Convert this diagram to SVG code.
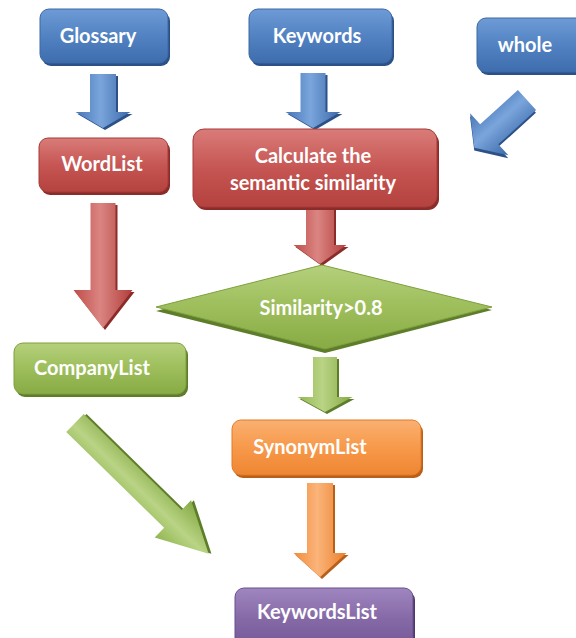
<svg xmlns="http://www.w3.org/2000/svg" width="576" height="638" viewBox="0 0 576 638">
<defs>
<linearGradient id="gBlue" x1="0" y1="0" x2="0" y2="1"><stop offset="0" stop-color="#6E9BD6"/><stop offset="0.5" stop-color="#5282C2"/><stop offset="1" stop-color="#3E6DAE"/></linearGradient>
<linearGradient id="gRed" x1="0" y1="0" x2="0" y2="1"><stop offset="0" stop-color="#D97C79"/><stop offset="0.5" stop-color="#C65653"/><stop offset="1" stop-color="#B4423F"/></linearGradient>
<linearGradient id="gGreen" x1="0" y1="0" x2="0" y2="1"><stop offset="0" stop-color="#B5D07C"/><stop offset="0.5" stop-color="#9DBE5B"/><stop offset="1" stop-color="#88AB45"/></linearGradient>
<linearGradient id="gOrange" x1="0" y1="0" x2="0" y2="1"><stop offset="0" stop-color="#FAB072"/><stop offset="0.5" stop-color="#F7994A"/><stop offset="1" stop-color="#EE8632"/></linearGradient>
<linearGradient id="gPurple" x1="0" y1="0" x2="0" y2="1"><stop offset="0" stop-color="#9F86BF"/><stop offset="0.5" stop-color="#866AA8"/><stop offset="1" stop-color="#735796"/></linearGradient>
<linearGradient id="aBlue" x1="0" y1="0" x2="1" y2="0"><stop offset="0" stop-color="#4776B6"/><stop offset="0.45" stop-color="#7AA5DC"/><stop offset="1" stop-color="#3B68A8"/></linearGradient>
<linearGradient id="aRed" x1="0" y1="0" x2="1" y2="0"><stop offset="0" stop-color="#C04C49"/><stop offset="0.45" stop-color="#DA8582"/><stop offset="1" stop-color="#B23E3B"/></linearGradient>
<linearGradient id="aGreen" x1="0" y1="0" x2="1" y2="0"><stop offset="0" stop-color="#93B652"/><stop offset="0.45" stop-color="#B9D485"/><stop offset="1" stop-color="#86A944"/></linearGradient>
<linearGradient id="aOrange" x1="0" y1="0" x2="1" y2="0"><stop offset="0" stop-color="#F28C3A"/><stop offset="0.45" stop-color="#FBB47A"/><stop offset="1" stop-color="#EA7F2A"/></linearGradient>
<style>
.t{font-family:Lato,"Open Sans","Liberation Sans",sans-serif;font-weight:bold;font-size:20px;fill:#FFFFFF;text-anchor:middle}
.sb{fill:#2B5188}.sr{fill:#8A2C2A}.sg{fill:#5E7D2A}.so{fill:#B8601A}.sp{fill:#4D3870}
.bb{fill:url(#gBlue);stroke:#3C68A3;stroke-width:1}
.br{fill:url(#gRed);stroke:#A63B38;stroke-width:1}
.bg{fill:url(#gGreen);stroke:#7E9F3E;stroke-width:1}
.bo{fill:url(#gOrange);stroke:#E07B28;stroke-width:1}
.bp{fill:url(#gPurple);stroke:#6A4F8C;stroke-width:1}
</style>
</defs>
<rect width="576" height="638" fill="#FFFFFF"/>

<g id="connectors">
  <g id="arrow-glossary-wordlist">
    <polygon class="sb" transform="translate(2,2)" points="90,74 116,74 116,112 130.5,112 103,128 75.5,112 90,112"/>
    <polygon fill="url(#aBlue)" points="90,74 116,74 116,112 130.5,112 103,128 75.5,112 90,112"/>
  </g>
  <g id="arrow-keywords-calc">
    <polygon class="sb" transform="translate(2,2)" points="300.5,73 325.5,73 325.5,112 340.5,112 313,128 285.5,112 300.5,112"/>
    <polygon fill="url(#aBlue)" points="300.5,73 325.5,73 325.5,112 340.5,112 313,128 285.5,112 300.5,112"/>
  </g>
  <g id="arrow-whole-calc" transform="translate(527,100) rotate(47.8)">
    <polygon class="sb" transform="translate(2,2)" points="-13.5,0 13.5,0 13.5,51 28.5,51 0,71 -28.5,51 -13.5,51"/>
    <polygon fill="url(#aBlue)" points="-13.5,0 13.5,0 13.5,51 28.5,51 0,71 -28.5,51 -13.5,51"/>
  </g>
  <g id="arrow-wordlist-company">
    <polygon class="sr" transform="translate(2,2)" points="90.5,203 115.5,203 115.5,290 132.5,290 103,328 73.5,290 90.5,290"/>
    <polygon fill="url(#aRed)" points="90.5,203 115.5,203 115.5,290 132.5,290 103,328 73.5,290 90.5,290"/>
  </g>
  <g id="arrow-calc-similarity">
    <polygon class="sr" transform="translate(2,2)" points="306,207 334,207 334,245 346.5,245 320,264 293.5,245 306,245"/>
    <polygon fill="url(#aRed)" points="306,207 334,207 334,245 346.5,245 320,264 293.5,245 306,245"/>
  </g>
  <g id="arrow-similarity-synonym">
    <polygon class="sg" transform="translate(2,2)" points="313,357 337,357 337,397 352.5,397 325,412 297.5,397 313,397"/>
    <polygon fill="url(#aGreen)" points="313,357 337,357 337,397 352.5,397 325,412 297.5,397 313,397"/>
  </g>
  <g id="arrow-company-keywordslist" transform="translate(75,423) rotate(-45.6)">
    <polygon class="sg" transform="translate(2,2)" points="-12.5,0 12.5,0 12.5,137 26,137 0,187 -26,137 -12.5,137"/>
    <polygon fill="url(#aGreen)" points="-12.5,0 12.5,0 12.5,137 26,137 0,187 -26,137 -12.5,137"/>
  </g>
  <g id="arrow-synonym-keywordslist">
    <polygon class="so" transform="translate(2,2)" points="307,483 333,483 333,553 346.5,553 320,577 293.5,553 307,553"/>
    <polygon fill="url(#aOrange)" points="307,483 333,483 333,553 346.5,553 320,577 293.5,553 307,553"/>
  </g>
</g>

<g id="node-glossary">
  <rect class="sb" x="42" y="12" width="128" height="54" rx="9"/>
  <rect class="bb" x="40" y="9" width="128" height="54" rx="9"/>
  <text class="t" x="98" y="43">Glossary</text>
</g>
<g id="node-keywords">
  <rect class="sb" x="251" y="12" width="143" height="54" rx="9"/>
  <rect class="bb" x="249" y="9" width="143" height="54" rx="9"/>
  <text class="t" x="317" y="43">Keywords</text>
</g>
<g id="node-whole">
  <rect class="sb" x="479" y="21" width="110" height="54" rx="9"/>
  <rect class="bb" x="477" y="18" width="110" height="54" rx="9"/>
  <text class="t" x="525" y="52">whole</text>
</g>
<g id="node-wordlist">
  <rect class="sr" x="41" y="141" width="129" height="54" rx="9"/>
  <rect class="br" x="39" y="138" width="129" height="54" rx="9"/>
  <text class="t" x="102" y="171">WordList</text>
</g>
<g id="node-calc">
  <rect class="sr" x="195" y="132" width="244" height="78" rx="11"/>
  <rect class="br" x="193" y="129" width="244" height="78" rx="11"/>
  <text class="t" x="313" y="163">Calculate the</text>
  <text class="t" x="313" y="190">semantic similarity</text>
</g>
<g id="node-similarity">
  <polygon class="sg" points="156,311 322,268 492,310 325,353"/>
  <polygon class="bg" points="156,307 322,265 492,307 325,349"/>
  <text class="t" x="321" y="315">Similarity&gt;0.8</text>
</g>
<g id="node-companylist">
  <rect class="sg" x="16" y="346" width="172" height="51" rx="9"/>
  <rect class="bg" x="14" y="343" width="172" height="51" rx="9"/>
  <text class="t" x="92" y="375">CompanyList</text>
</g>
<g id="node-synonymlist">
  <rect class="so" x="234" y="423" width="189" height="55" rx="9"/>
  <rect class="bo" x="232" y="420" width="189" height="55" rx="9"/>
  <text class="t" x="310" y="454">SynonymList</text>
</g>
<g id="node-keywordslist">
  <rect class="sp" x="237" y="591" width="178" height="60" rx="9"/>
  <rect class="bp" x="235" y="588" width="178" height="60" rx="9"/>
  <text class="t" x="317" y="619">KeywordsList</text>
</g>
</svg>
